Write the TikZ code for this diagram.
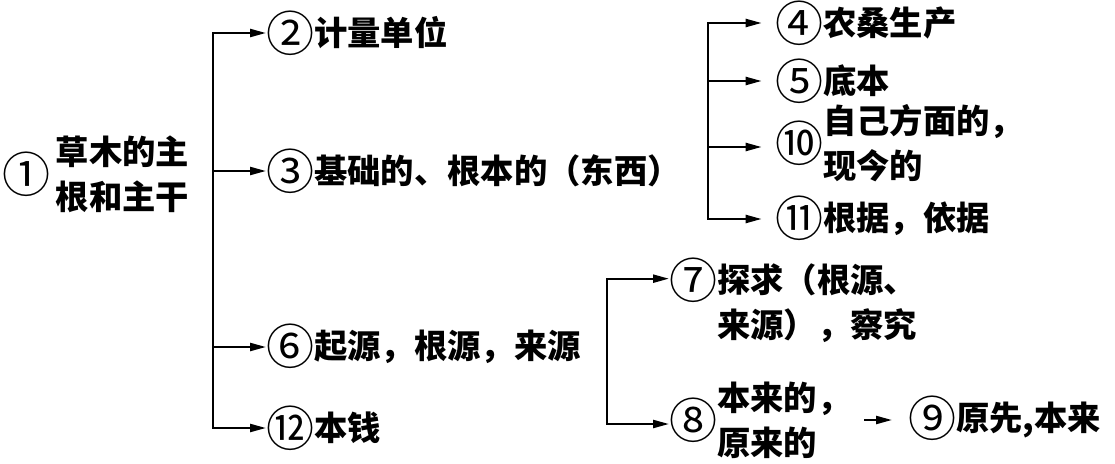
\documentclass[tikz,border=0pt]{standalone}
\usepackage{fontspec}
\usepackage{tikz}
\usetikzlibrary{arrows.meta,positioning}
\setmainfont{Noto Sans CJK SC}
\tikzset{
  gloss/.style={
    inner sep=0pt,
    anchor=west,
    align=left,
    font=\fontsize{25}{33.75}\selectfont\bfseries
  },
  spine/.style={line width=1.7pt, line cap=rect, draw=black},
  branch/.style={-{Triangle[length=12pt,width=6pt]}, line width=1.7pt, draw=black},
  branchgap/.style={branch, shorten >=10pt}
}
\newcommand{\twolines}[2]{\begin{tabular}{@{}l@{}}#1\\#2\end{tabular}}
\newcommand{\cnum}[1]{\smash{\raisebox{-4.5pt}{\fontsize{36}{36}\selectfont\mdseries #1}}}
\begin{document}
\begin{tikzpicture}[x=0.75pt,y=-0.75pt]
\useasboundingbox (0,0) rectangle (1115,464);
% root sense
\node[gloss] (root) at (2,178) {\cnum{①}\,\twolines{草木的主}{根和主干}};
% first level
\coordinate (spineA) at (213,0);
\node[gloss] (unit) at (266,33) {\cnum{②}计量单位};
\node[gloss] (basis) at (266,171) {\cnum{③}基础的、根本的（东西）};
\node[gloss] (origin) at (266,347) {\cnum{⑥}起源，根源，来源};
\node[gloss] (capital) at (266,428) {\cnum{⑫}本钱};
\draw[spine] (spineA |- unit) -- (spineA |- capital);
\draw[branch] (spineA |- unit) -- (unit);
\draw[branch] (spineA |- basis) -- (basis);
\draw[branch] (spineA |- origin) -- (origin);
\draw[branch] (spineA |- capital) -- (capital);
% senses of basis
\coordinate (spineB) at (708,0);
\node[gloss] (farming) at (775,23) {\cnum{④}农桑生产};
\node[gloss] (draft) at (775,81) {\cnum{⑤}底本};
\node[gloss] (own) at (775,147) {\cnum{⑩}\twolines{自己方面的，}{现今的}};
\node[gloss] (ground) at (775,219) {\cnum{⑪}根据，依据};
\draw[spine] (spineB |- farming) -- (spineB |- ground);
\draw[branchgap] (spineB |- farming) -- (farming);
\draw[branchgap] (spineB |- draft) -- (draft);
\draw[branchgap] (spineB |- own) -- (own);
\draw[branchgap] (spineB |- ground) -- (ground);
% senses of origin
\coordinate (spineC) at (607,0);
\node[gloss, anchor=base west] (trace) at (669,292) {\cnum{⑦}\begin{tabular}[t]{@{}l@{}}探求（根源、\\来源），察究\end{tabular}};
\coordinate (tracein) at ([yshift=10pt]trace.base west);
\node[gloss] (primal) at (669,424) {\cnum{⑧}\twolines{本来的，}{原来的}};
\node[gloss] (formerly) at (908,420) {\cnum{⑨}原先,本来};
\draw[spine] (spineC |- tracein) -- (spineC |- primal);
\draw[branch] (spineC |- tracein) -- (tracein);
\draw[branch] (spineC |- primal) -- (primal);
\draw[branch, shorten <=10pt, shorten >=12pt] (primal.east |- formerly) -- (formerly);
\end{tikzpicture}
\end{document}
